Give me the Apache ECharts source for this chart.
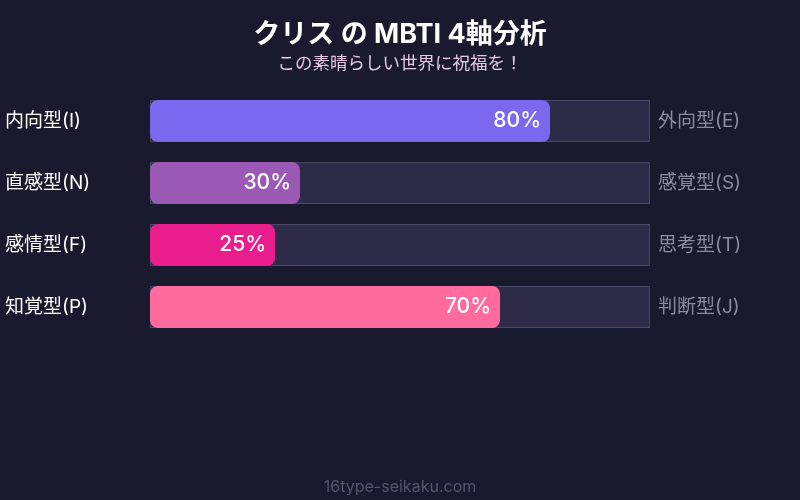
<!DOCTYPE html>
<html><head><meta charset="utf-8">
<script src="https://cdn.jsdelivr.net/npm/echarts@6/dist/echarts.min.js"></script>
<style>html,body{margin:0;padding:0;background:#1a1a2e;}#c{width:800px;height:500px;}</style>
</head><body><div id="c"></div>
<script>
const leftLabels = ['内向型(I)', '直感型(N)', '感情型(F)', '知覚型(P)'];
const rightLabels = ['外向型(E)', '感覚型(S)', '思考型(T)', '判断型(J)'];
const values = [80, 30, 25, 70];
const colors = ['#7b68ee', '#9b59b6', '#e91e8c', '#ff6b9d'];
const fullScale = [100, 100, 100, 100];

const FONT = 'Inter, "Noto Sans CJK JP", sans-serif';
const chart = echarts.init(document.getElementById('c'));
chart.setOption({
  backgroundColor: '#1a1a2e',
  animation: false,
  title: [
    { text: 'クリス の MBTI 4軸分析', left: 'center', top: 16,
      textStyle: { color: '#ffffff', fontSize: 27, fontWeight: 'bold', fontFamily: FONT } },
    { text: 'この素晴らしい世界に祝福を！', left: 'center', top: 50,
      textStyle: { color: '#e6c8e6', fontSize: 17.5, fontWeight: 'normal', fontFamily: FONT } },
    { text: '16type-seikaku.com', left: 'center', top: 474,
      textStyle: { color: '#55556e', fontSize: 16, fontWeight: 'normal', fontFamily: FONT } }
  ],
  grid: { left: 150, right: 150, top: 90, bottom: 162 },
  xAxis: { type: 'value', min: 0, max: 100, show: false },
  yAxis: [
    { type: 'category', data: leftLabels, inverse: true, position: 'left',
      axisLine: { show: false }, axisTick: { show: false },
      axisLabel: { color: '#ffffff', fontSize: 19, fontFamily: FONT, align: 'left', margin: 145, padding: [0, 0, 5, 0] } },
    { type: 'category', data: rightLabels, inverse: true, position: 'right',
      axisLine: { show: false }, axisTick: { show: false },
      axisLabel: { color: '#8c8ca0', fontSize: 19, fontFamily: FONT, margin: 8, padding: [0, 0, 5, 0] } }
  ],
  series: [
    { type: 'bar', data: fullScale, barWidth: 42, barGap: '-100%', silent: true,
      itemStyle: { color: '#2d2b47', borderColor: '#4a4866', borderWidth: 1 }, z: 1 },
    { type: 'bar', barWidth: 42,
      data: values.map((v, i) => ({ value: v, itemStyle: { color: colors[i] } })),
      itemStyle: { borderRadius: 8 },
      label: { show: true, position: 'insideRight', distance: 9, formatter: '{c}%',
        color: '#ffffff', fontSize: 21, fontWeight: 500, fontFamily: FONT }, z: 2 }
  ]
});
</script></body></html>
